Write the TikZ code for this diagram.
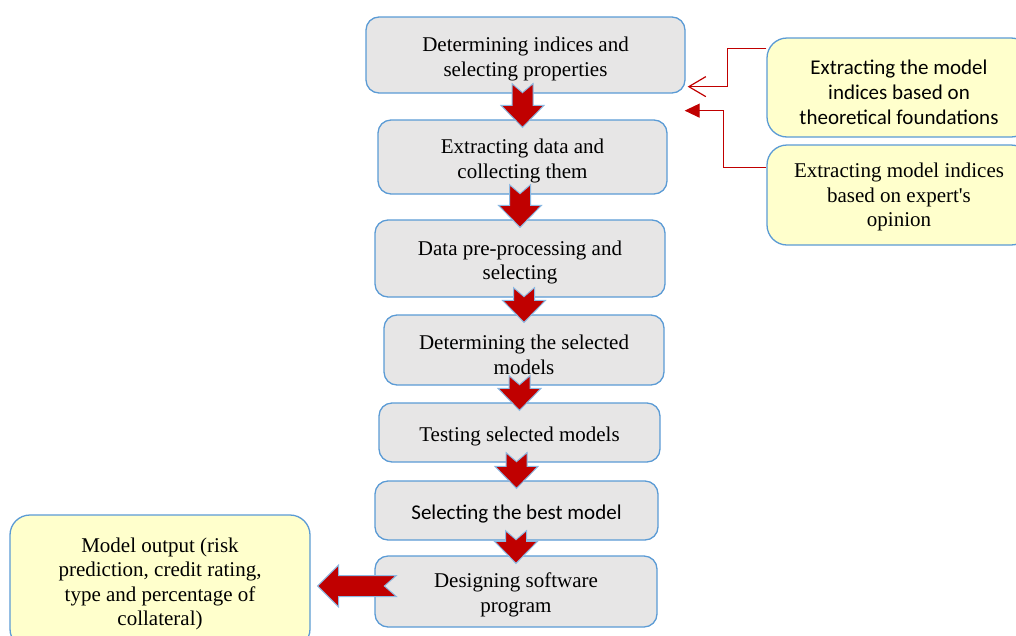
\documentclass[tikz,border=0pt]{standalone}
\usepackage{fontspec}
\setmainfont{Liberation Serif}
\newfontfamily\calibri{Carlito}
\usetikzlibrary{calc,arrows.meta}
\definecolor{boxblue}{RGB}{91,155,213}
\definecolor{boxgray}{RGB}{231,230,230}
\definecolor{boxyellow}{RGB}{255,255,204}
\definecolor{darkred}{RGB}{192,0,0}
\newcommand{\dropline}[1]{\rule{0pt}{#1}}

\newcommand{\fatdown}[2]{%
\path (#1.south) ++(0,-10) coordinate (ftop);
\path (#2.north) ++(0,8) coordinate (ftip);
\filldraw[fatarrow] let \p1=(ftop), \p2=(ftip) in
 (\x2-10.5pt,\y1) -- (\x2,\y1-9pt) -- (\x2+10.5pt,\y1) -- (\x2+10.5pt,\y2+22pt)
 -- (\x2+21.5pt,\y2+22pt) -- (\x2,\y2) -- (\x2-21.5pt,\y2+22pt) -- (\x2-10.5pt,\y2+22pt) -- cycle;}
\newcommand{\fatleft}[2]{%
\path (#1.west) ++(22,-5.5) coordinate (fend);
\path (#2.east) ++(7,0) coordinate (ftip);
\filldraw[fatarrow] let \p1=(fend), \p2=(ftip) in
 (\x1,\y1+10.5pt) -- (\x1-12pt,\y1) -- (\x1,\y1-10.5pt) -- (\x2+21pt,\y1-10.5pt)
 -- (\x2+21pt,\y1-21pt) -- (\x2,\y1) -- (\x2+21pt,\y1+21pt) -- (\x2+21pt,\y1+10.5pt) -- cycle;}

\begin{document}
\begin{tikzpicture}[x=1pt,y=-1pt]
\tikzstyle{every node}=[font=\fontsize{21}{24.5}\selectfont]
\tikzstyle{graybox}=[rectangle,rounded corners=13pt,draw=boxblue,line width=1.3pt,fill=boxgray,align=center]
\tikzstyle{notebox}=[rectangle,rounded corners=20pt,draw=boxblue,line width=1.3pt,fill=boxyellow,align=center]
\tikzstyle{fatarrow}=[fill=darkred,draw=boxblue!70,line width=1pt,line join=miter]
\tikzstyle{feed}=[draw=darkred,line width=1.2pt]
\useasboundingbox (0,0) rectangle (1016,635);
\clip (0,0) rectangle (1016,635);

\node[graybox,minimum width=319,minimum height=76] (s1) at (525.5,55) {\dropline{23pt}Determining indices and\\selecting properties};
\node[graybox,minimum width=289,minimum height=74] (s2) at (522.5,157) {\dropline{23pt}Extracting data and\\collecting them};
\node[graybox,minimum width=290,minimum height=77] (s3) at (520,258.5) {\dropline{23pt}Data pre-processing and\\selecting};
\node[graybox,minimum width=280,minimum height=70] (s4) at (524,350) {\dropline{24pt}Determining the selected\\models};
\node[graybox,minimum width=281,minimum height=59] (s5) at (519.5,432.5) {\dropline{22.5pt}Testing selected models};
\node[graybox,minimum width=283,minimum height=59,font=\calibri\fontsize{21}{24.5}\selectfont] (s6) at (516.5,510.5) {\dropline{21pt}Selecting the best model};
\node[graybox,minimum width=282,minimum height=71] (s7) at (516,591.5) {\dropline{22pt}Designing software\\program};

\node[notebox,minimum width=264,minimum height=99,font=\calibri\fontsize{21}{25}\selectfont] (theory) at (899,87.5) {\dropline{24pt}Extracting the model\\indices based on\\theoretical foundations};
\node[notebox,minimum width=264,minimum height=100] (expert) at (899,195) {\dropline{19pt}Extracting model indices\\based on expert\textquotesingle s\\opinion};
\node[notebox,minimum width=300,minimum height=134] (output) at (160,582) {\dropline{18pt}Model output (risk\\prediction, credit rating,\\type and percentage of\\collateral)};

\fatdown{s1}{s2}
\fatdown{s2}{s3}
\fatdown{s3}{s4}
\fatdown{s4}{s5}
\fatdown{s5}{s6}
\fatdown{s6}{s7}
\fatleft{s7}{output}

\draw[feed,-{Straight Barb[length=17pt,width=20pt]}] ($(theory.north west)+(0,11)$) -- ++(-39,0) |- ($(s1.south east)+(2,-7)$);
\draw[feed,-{Triangle[length=15pt,width=14pt]}] ($(expert.north west)+(0,23)$) -- ++(-43,0) |- ($(s1.south east)+(-1,17)$);
\end{tikzpicture}
\end{document}
